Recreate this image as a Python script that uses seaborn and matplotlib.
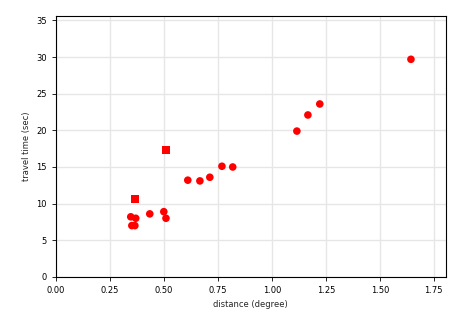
import matplotlib
matplotlib.use("Agg")
import matplotlib.pyplot as plt
import seaborn as sns
import pandas as pd

circle_dist = [0.347, 0.37, 0.352, 0.366, 0.435, 0.50, 0.51, 0.611, 0.667, 0.713,
               0.769, 0.819, 1.116, 1.167, 1.222, 1.644]
circle_time = [8.2, 8.0, 7.0, 7.0, 8.6, 8.9, 8.0, 13.2, 13.1, 13.6,
               15.1, 15.0, 19.9, 22.1, 23.6, 29.7]
square_dist = [0.366, 0.51]
square_time = [10.6, 17.3]

df = pd.DataFrame({
    "distance": circle_dist + square_dist,
    "time": circle_time + square_time,
    "kind": ["c"] * len(circle_dist) + ["s"] * len(square_dist),
})

sns.set_style("white")
plt.rcParams["font.family"] = ["DejaVu Sans"]
fig = plt.figure(figsize=(4.65, 3.15), dpi=100)
ax = fig.add_axes([0.12, 0.121, 0.839, 0.828])

sns.scatterplot(data=df, x="distance", y="time", style="kind",
                markers={"c": "o", "s": "s"}, color="red", s=30,
                edgecolor="none", legend=False, ax=ax, zorder=3)

ax.set_xlim(0, 1.806)
ax.set_ylim(0, 35.6)
ax.set_xticks([0, 0.25, 0.5, 0.75, 1.0, 1.25, 1.5, 1.75])
ax.set_xticklabels(["0.00", "0.25", "0.50", "0.75", "1.00", "1.25", "1.50", "1.75"])
ax.set_yticks([0, 5, 10, 15, 20, 25, 30, 35])
ax.grid(True, color="#e6e6e6", linewidth=1, zorder=0)
ax.set_axisbelow(True)
for sp in ax.spines.values():
    sp.set_color("black")
    sp.set_linewidth(0.8)
ax.tick_params(axis="both", direction="out", length=3, width=0.6,
               labelsize=6, colors="black", bottom=True, left=True)
ax.set_xlabel("distance (degree)", fontsize=6)
ax.set_ylabel("travel time (sec)", fontsize=6)

fig.savefig("out.png", dpi=100)
